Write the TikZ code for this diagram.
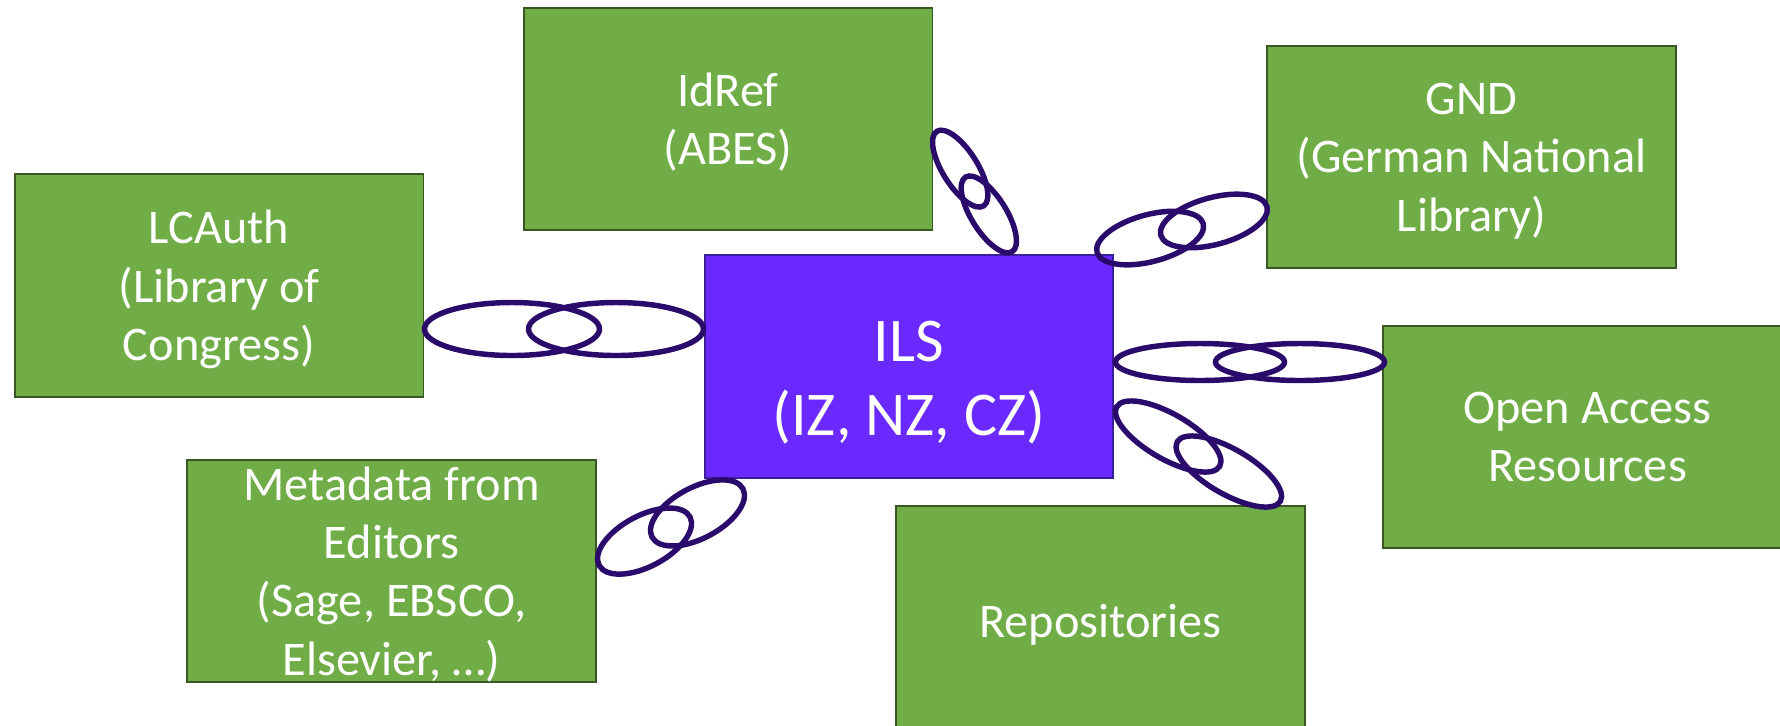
\documentclass[tikz,border=0pt]{standalone}
\usepackage{fontspec}
\setmainfont{Carlito}
\usepackage{xcolor}
\usetikzlibrary{positioning}

\definecolor{boxgreen}{HTML}{70AD47}
\definecolor{boxedge}{HTML}{385723}
\definecolor{ilsfill}{HTML}{6A2AFF}
\definecolor{ilsedge}{HTML}{3C1D9A}
\definecolor{linkcol}{HTML}{2A0B6B}

% two interlocked rings: centre, angle, half length, half width, offset
\newcommand{\chainlink}[5]{%
  \begin{scope}[shift={#1}, rotate=#2]
    \draw[link] (-#5,0) ellipse [x radius=#3, y radius=#4];
    \draw[link] (#5,0) ellipse [x radius=#3, y radius=#4];
  \end{scope}}

\begin{document}
\begin{tikzpicture}[x=0.02cm, y=-0.02cm,
    greenbox/.style={draw=boxedge, line width=1.1pt, fill=boxgreen, text=white,
      minimum width=8.18cm, minimum height=4.45cm, inner sep=0pt, align=center,
      execute at begin node=\strut, execute at end node=\strut, text depth=-0.5pt,
      font=\fontsize{27.5pt}{33.2pt}\selectfont},
    ilsbox/.style={draw=ilsedge, line width=1.1pt, fill=ilsfill, text=white,
      minimum width=8.16cm, minimum height=4.46cm, inner sep=0pt, align=center,
      execute at begin node=\strut, execute at end node=\strut,
      text height=79pt, text depth=0pt,
      font=\fontsize{35.4pt}{42.5pt}\selectfont},
    link/.style={draw=linkcol, line width=3.1pt}]
  \useasboundingbox (0,0) rectangle (1780,725);
  \clip (0,0) rectangle (1780,725);

  \node[ilsbox]   (ils)   at (909,366.5)  {ILS\\(IZ, NZ, CZ)};
  \node[greenbox] (idref) at (728,119)    {IdRef\\(ABES)};
  \node[greenbox] (lcauth) at (219,285.5) {LCAuth\\(Library of\\Congress)};
  \node[greenbox] (gnd)   at (1471.5,157) {GND\\(German National\\Library)};
  \node[greenbox] (oar)   at (1587.5,437) {Open Access\\Resources};
  \node[greenbox] (meta)  at (391.5,571)  {Metadata from\\Editors\\(Sage, EBSCO,\\Elsevier, …)};
  \node[greenbox] (repo)  at (1100.5,617.5) {Repositories};

  % links
  \chainlink{(564,329)}{0}{87.5}{26.5}{52}
  \chainlink{(1250,362)}{0}{84.5}{18.5}{50}
  \chainlink{(974.5,191.5)}{-58}{44}{17.5}{27}
  \chainlink{(1182,229.5)}{15}{55}{23.5}{33}
  \chainlink{(1198.5,454)}{-30}{59.5}{22.5}{35}
  \chainlink{(671,527)}{28}{51.5}{25.5}{30}
\end{tikzpicture}
\end{document}
